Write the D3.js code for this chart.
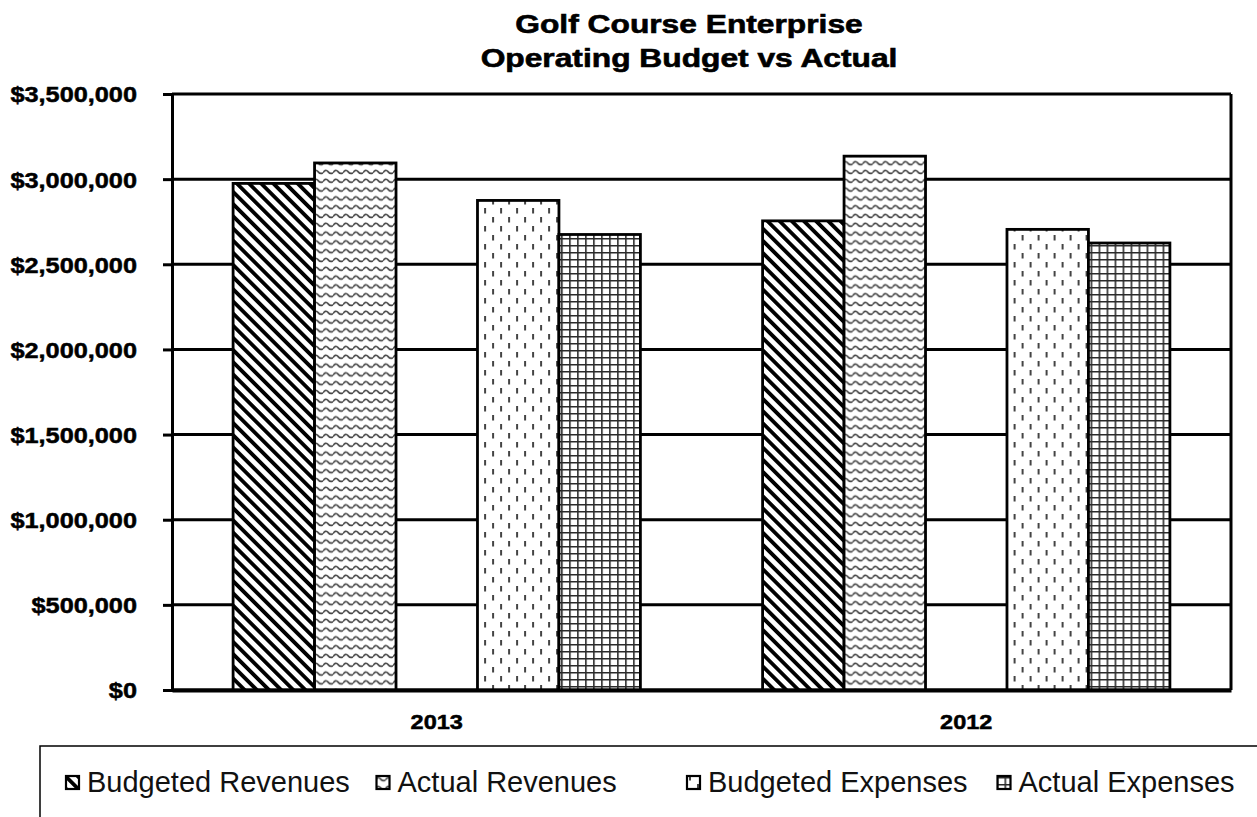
<!DOCTYPE html>
<html>
<head>
<meta charset="utf-8">
<script src="https://cdn.jsdelivr.net/npm/d3@7"></script>
<style>
  html, body { margin: 0; padding: 0; background: #fff; }
  svg { display: block; font-family: "Liberation Sans", Arial, sans-serif; }
</style>
</head>
<body>
<svg id="chart" width="1257" height="817"></svg>
<script>
// Golf course enterprise: budget vs actual, by fiscal year
const years = ["2013", "2012"];
const seriesNames = ["Budgeted Revenues", "Actual Revenues", "Budgeted Expenses", "Actual Expenses"];
const budgetedRevenues = [2975000, 2755000];
const actualRevenues   = [3095000, 3135000];
const budgetedExpenses = [2875000, 2705000];
const actualExpenses   = [2675000, 2625000];
const yTicks = [0, 500000, 1000000, 1500000, 2000000, 2500000, 3000000, 3500000];
const titleLines = ["Golf Course Enterprise", "Operating Budget vs Actual"];

const seriesValues = [budgetedRevenues, actualRevenues, budgetedExpenses, actualExpenses];
const patternIds = ["pat-diag", "pat-wave", "pat-dash", "pat-grid"];
// slot order inside each year group; an empty slot separates revenues from expenses
const slots = [seriesNames[0], seriesNames[1], "", seriesNames[2], seriesNames[3]];

const svg = d3.select("#chart");
const plot = { left: 172, right: 1231, top: 94, bottom: 690 };

// ---- fill patterns ----
const defs = svg.append("defs");

const pDiag = defs.append("pattern").attr("id", "pat-diag")
  .attr("patternUnits", "userSpaceOnUse").attr("width", 8.6).attr("height", 8.6)
  .attr("patternTransform", "rotate(-45)");
pDiag.append("rect").attr("width", 8.6).attr("height", 8.6).attr("fill", "#fff");
pDiag.append("rect").attr("x", 0).attr("y", 0).attr("width", 3.8).attr("height", 8.6).attr("fill", "#000");

const pWave = defs.append("pattern").attr("id", "pat-wave")
  .attr("patternUnits", "userSpaceOnUse").attr("width", 10).attr("height", 8.8);
pWave.append("rect").attr("width", 10).attr("height", 8.8).attr("fill", "#fff");
pWave.append("path").attr("d", "M0,5.5 Q2.5,1.5 5,4.5 T10,5.5")
  .attr("fill", "none").attr("stroke", "#444").attr("stroke-width", 1.6);

// staggered short vertical dashes
const pDash = defs.append("pattern").attr("id", "pat-dash")
  .attr("patternUnits", "userSpaceOnUse").attr("width", 16).attr("height", 18);
pDash.append("rect").attr("width", 16).attr("height", 18).attr("fill", "#fff");
pDash.append("rect").attr("x", 3).attr("y", 1).attr("width", 2).attr("height", 5.5).attr("fill", "#444");
pDash.append("rect").attr("x", 11).attr("y", 10).attr("width", 2).attr("height", 5.5).attr("fill", "#444");

const pGrid = defs.append("pattern").attr("id", "pat-grid")
  .attr("patternUnits", "userSpaceOnUse").attr("width", 8).attr("height", 7);
pGrid.append("rect").attr("width", 8).attr("height", 7).attr("fill", "#fff");
pGrid.append("path").attr("d", "M0,0.8 H8 M0.8,0 V7")
  .attr("fill", "none").attr("stroke", "#2a2a2a").attr("stroke-width", 1.6);

// ---- scales ----
const y = d3.scaleLinear().domain([0, 3500000]).range([plot.bottom, plot.top]);
const x0 = d3.scaleBand().domain(years).range([plot.left, plot.right])
  .paddingInner(1.5 / 6.5).paddingOuter(0.75 / 6.5);
const x1 = d3.scaleBand().domain(slots).range([0, x0.bandwidth()]).padding(0);

// ---- gridlines ----
svg.append("g").selectAll("line").data(yTicks).join("line")
  .attr("x1", plot.left).attr("x2", plot.right)
  .attr("y1", d => y(d)).attr("y2", d => y(d))
  .attr("stroke", "#000").attr("stroke-width", 3);

// right border of the plot area
svg.append("line")
  .attr("x1", plot.right).attr("x2", plot.right)
  .attr("y1", plot.top).attr("y2", plot.bottom)
  .attr("stroke", "#000").attr("stroke-width", 3);

// ---- bars ----
const groups = svg.append("g").selectAll("g").data(years).join("g")
  .attr("transform", d => `translate(${x0(d)},0)`);

groups.selectAll("rect")
  .data((yr, i) => seriesNames.map((s, k) => ({ series: s, value: seriesValues[k][i], pat: patternIds[k] })))
  .join("rect")
  .attr("x", d => x1(d.series))
  .attr("width", x1.bandwidth())
  .attr("y", d => y(d.value))
  .attr("height", d => y(0) - y(d.value))
  .attr("fill", d => `url(#${d.pat})`)
  .attr("stroke", "#000").attr("stroke-width", 2.8);

// ---- axes ----
const yAxis = d3.axisLeft(y).tickValues(yTicks).tickSize(9).tickPadding(26)
  .tickFormat(d => "$" + d3.format(",")(d));
const gy = svg.append("g").attr("transform", `translate(${plot.left},0)`).call(yAxis);
gy.select(".domain").attr("stroke", "#000").attr("stroke-width", 3);
gy.selectAll(".tick line").attr("stroke", "#000").attr("stroke-width", 3);
gy.selectAll(".tick text")
  .attr("font-size", 22).attr("font-weight", "bold").attr("fill", "#000")
  .attr("stroke", "#000").attr("stroke-width", 0.5)
  .attr("x", 0).attr("dy", "0.36em")
  .attr("transform", "translate(-35,0) scale(1.15,1)");

const xAxis = d3.axisBottom(x0).tickSize(0).tickPadding(24);
const gx = svg.append("g").attr("transform", `translate(0,${plot.bottom})`).call(xAxis);
gx.select(".domain").attr("stroke", "#000").attr("stroke-width", 4);
gx.selectAll(".tick text")
  .attr("font-size", 21).attr("font-weight", "bold").attr("fill", "#000")
  .attr("stroke", "#000").attr("stroke-width", 0.5)
  .attr("transform", "scale(1.12,1)")
  .attr("x", 0);

// ---- title ----
const titleX = 689;
svg.append("g").selectAll("text").data(titleLines).join("text")
  .attr("transform", (d, i) => `translate(${titleX},${[33, 67][i]}) scale(1.27,1)`)
  .attr("text-anchor", "middle")
  .attr("font-size", 25).attr("font-weight", "bold").attr("fill", "#000")
  .attr("stroke", "#000").attr("stroke-width", 0.6)
  .text(d => d);

// ---- legend ----
svg.append("rect")
  .attr("x", 40).attr("y", 746).attr("width", 1240).attr("height", 120)
  .attr("fill", "#fff").attr("stroke", "#000").attr("stroke-width", 1.5);

const legendX = d3.scaleBand().domain(seriesNames).range([65, 1307]);
const items = svg.append("g").selectAll("g").data(seriesNames).join("g")
  .attr("transform", d => `translate(${legendX(d)},0)`);
items.append("rect")
  .attr("x", 1).attr("y", 776).attr("width", 13).attr("height", 13)
  .attr("fill", (d, i) => `url(#${patternIds[i]})`)
  .attr("stroke", "#000").attr("stroke-width", 2.2);
items.append("text")
  .attr("x", 22).attr("y", 792)
  .attr("font-size", 29).attr("fill", "#111")
  .text(d => d);
</script>
</body>
</html>
